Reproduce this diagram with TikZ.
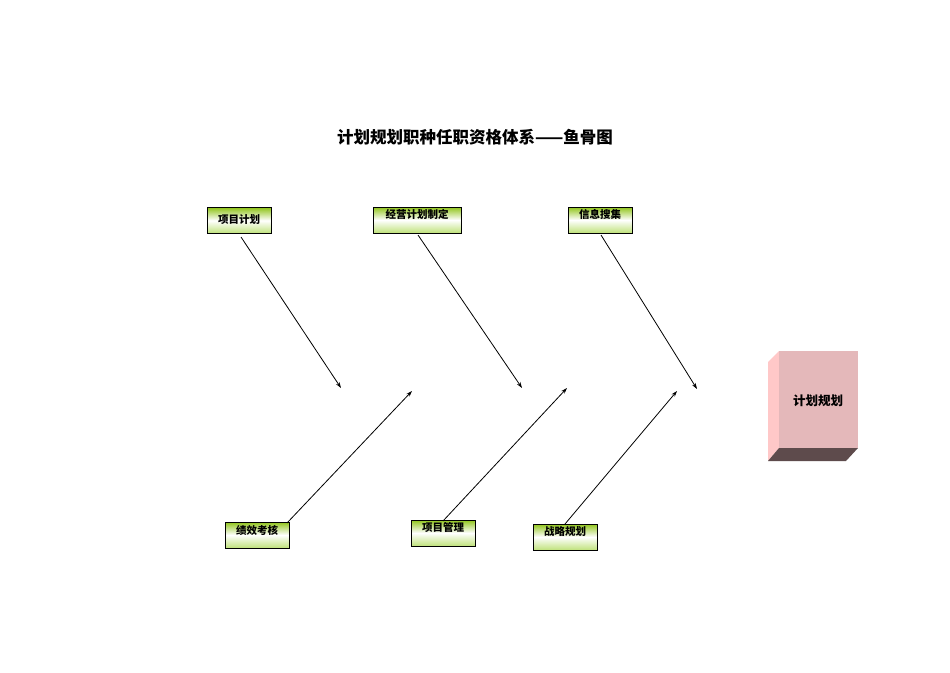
\documentclass[tikz,border=0pt]{standalone}
\usepackage{fontspec}
\newfontfamily\cjk{Noto Sans CJK SC}
\usetikzlibrary{arrows.meta}
\definecolor{gtop}{HTML}{90C41A}
\definecolor{gbot}{HTML}{BFE27A}
\definecolor{front}{HTML}{E4B8BA}
\definecolor{side}{HTML}{FFC8C8}
\definecolor{bottomc}{HTML}{5E4B4C}
\tikzset{
  bonebox/.style={draw=black, line width=0.6pt, top color=gtop, bottom color=gbot, middle color=white, minimum width=64pt, minimum height=26pt, inner sep=0pt},
  bonelabel/.style={font=\cjk\bfseries\fontsize{10.5}{10.5}\selectfont},
  bone/.style={line width=0.8pt, -{Stealth[length=6pt,width=4pt]}}
}
\begin{document}
\begin{tikzpicture}[x=1pt,y=-1pt]
\useasboundingbox (0,0) rectangle (950,672);
\fill[white] (0,0) rectangle (950,672);
% title
\node[font=\cjk\bfseries\fontsize{16.5}{16.5}\selectfont] (title) at (475,137) {计划规划职种任职资格体系——鱼骨图};
% top boxes
\node[bonebox] (b1) at (239,220.5) {};
\node[bonelabel] (t1) at (239,220) {项目计划};
\node[bonebox, minimum width=88pt] (b2) at (417,220) {};
\node[bonelabel] (t2) at (417,214) {经营计划制定};
\node[bonebox] (b3) at (600,220) {};
\node[bonelabel] (t3) at (600,214) {信息搜集};
% bottom boxes
\node[bonebox] (b4) at (257,535) {};
\node[bonelabel] (t4) at (257,530) {绩效考核};
\node[bonebox] (b5) at (443,533) {};
\node[bonelabel] (t5) at (443,527) {项目管理};
\node[bonebox] (b6) at (565,537) {};
\node[bonelabel] (t6) at (565,532) {战略规划};
% arrow end points
\coordinate (e1) at (341,388);
\coordinate (e2) at (522,388);
\coordinate (e3) at (697,389);
\coordinate (e4) at (412,391);
\coordinate (e5) at (567,388);
\coordinate (e6) at (677,391);
\draw[bone] (241,237) -- (e1);
\draw[bone] (418,235) -- (e2);
\draw[bone] (601,235) -- (e3);
\draw[bone] (287,523) -- (e4);
\draw[bone] (443,521) -- (e5);
\draw[bone] (565,524) -- (e6);
% head box
\fill[side] (768,362) -- (779,351) -- (779,448) -- (768,461) -- cycle;
\fill[bottomc] (768,461) -- (779,448) -- (858,448) -- (846,461) -- cycle;
\fill[front] (779,351) rectangle (858,448);
\node[font=\cjk\bfseries\fontsize{12.5}{12.5}\selectfont] (head) at (818,401) {计划规划};
\end{tikzpicture}
\end{document}
